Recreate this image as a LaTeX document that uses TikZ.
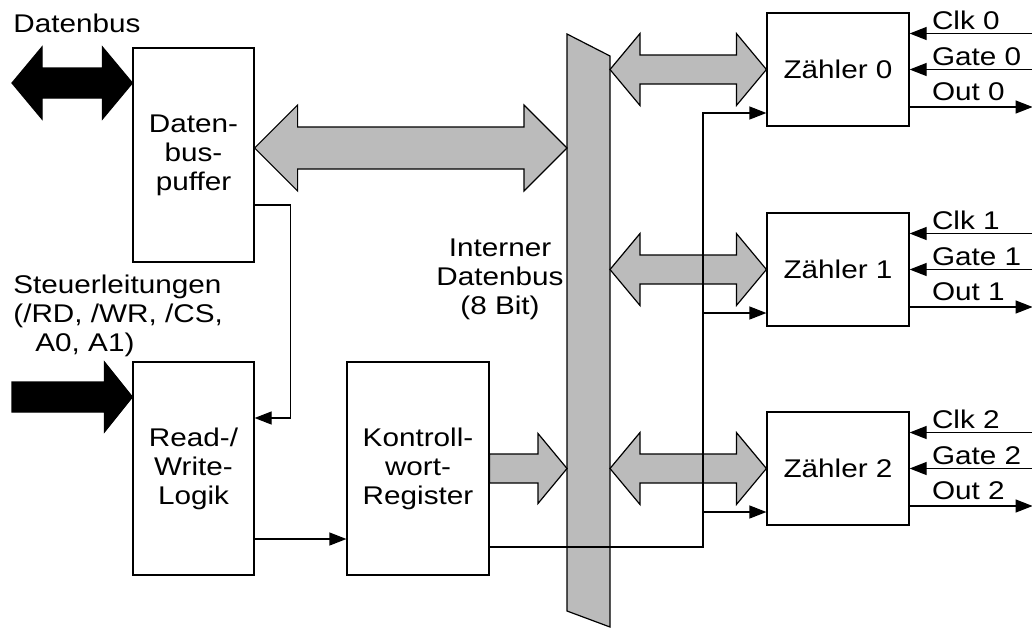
\documentclass[tikz,border=0pt]{standalone}
\usepackage{fontspec}
\setmainfont{Liberation Sans}[FakeStretch=1.16]
\usetikzlibrary{arrows.meta,calc}
\definecolor{busgray}{RGB}{187,187,187}

% fat bus arrows: style, from, to, half shaft, half head, head length
\newcommand{\dblbus}[6]{%
  \draw[#1] (#2) -- ++(#6,#5) -- ++(0,{#4-#5}) -- ($(#3)+(-#6,#4)$) -- ++(0,{#5-#4})
    -- (#3) -- ++(-#6,-#5) -- ++(0,{#5-#4}) -- ($(#2)+(#6,-#4)$) -- ++(0,{#4-#5}) -- cycle;}
\newcommand{\onebus}[6]{%
  \draw[#1] ($(#2)+(0,-#4)$) -- ($(#3)+(-#6,-#4)$) -- ++(0,{#4-#5}) -- (#3)
    -- ++(-#6,#5) -- ++(0,{#4-#5}) -- ($(#2)+(0,#4)$) -- cycle;}

\tikzset{
  block/.style={draw, line width=0.6pt, align=center, inner sep=0pt},
  sig/.style={line width=0.6pt},
  busfill/.style={fill=busgray, draw=black, line width=0.6pt},
  fatblack/.style={fill=black, draw=black, line width=0.6pt},
}

\begin{document}
\begin{tikzpicture}[x=0.5pt,y=-0.5pt,>={Triangle[length=8.5pt,width=6.5pt]},
    font=\fontsize{12.8pt}{14.5pt}\selectfont]
  \useasboundingbox (0,0) rectangle (1032,627);

  % blocks
  \node[block, minimum width=60.5pt, minimum height=107pt] (dbp) at (193.5,155) {Daten-\\bus-\\puffer};
  \node[block, minimum width=60.5pt, minimum height=106.5pt] (rw) at (193.5,468.5) {Read-/\\Write-\\Logik};
  \node[block, minimum width=71pt, minimum height=106.5pt] (kw) at (418,468.5) {Kontroll-\\wort-\\Register};
  \foreach \i/\yc in {0/69.5, 1/269.5, 2/468.5}
    \node[block, minimum width=71pt, minimum height=56.5pt] (z\i) at (838,\yc) {Zähler \i};

  % internal bus
  \draw[busfill] (567,34) -- (610,56) -- (610,627) -- (567,611) -- cycle;
  \coordinate (busL) at (567,0);
  \coordinate (busR) at (610,0);
  \node[anchor=north, align=center, inner sep=0pt] (ibus) at (500,238) {Interner\\Datenbus\\(8 Bit)};

  % outside connections
  \node[anchor=base west, inner sep=0pt] (ldb) at (13,32) {Datenbus};
  \coordinate (dbpL) at ([yshift=36pt]dbp.west);
  \coordinate (dbIn) at (12,83);
  \dblbus{fatblack}{dbIn}{dbpL}{15}{36}{30}
  \node[anchor=north west, align=left, inner sep=0pt] (lst) at (13,275)
    {Steuerleitungen\\(/RD, /WR, /CS,\\\hspace*{11pt}A0, A1)};
  \coordinate (rwL) at ([yshift=35.75pt]rw.west);
  \coordinate (stIn) at (12,397);
  \onebus{fatblack}{stIn}{rwL}{15}{35}{28}

  % bus arrows
  \coordinate (dbpR) at ([yshift=3.5pt]dbp.east);
  \coordinate (dbpB) at (dbpR -| busL);
  \dblbus{busfill}{dbpR}{dbpB}{21}{43}{43}
  \coordinate (kwB) at (kw.east -| busL);
  \onebus{busfill}{kw.east}{kwB}{14.5}{35}{29}
  \foreach \i in {0,1,2}{
    \coordinate (zb\i) at (z\i.west -| busR);
    \dblbus{busfill}{zb\i}{z\i.west}{14.5}{36}{30}
  }

  % control lines
  \draw[sig,->] ([yshift=-25pt]dbp.east) -- ++(36,0) |- ([yshift=25.25pt]rw.east);
  \draw[sig,->] ([yshift=-35.25pt]rw.east) -- ([yshift=-35.25pt]kw.west);
  \coordinate (rail) at (703,0);
  \draw[sig,->] ([yshift=-39.25pt]kw.east) -| ([yshift=-21.75pt]z0.west -| rail) -- ([yshift=-21.75pt]z0.west);
  \foreach \i in {1,2}
    \draw[sig,->] ([yshift=-21.75pt]z\i.west -| rail) -- ([yshift=-21.75pt]z\i.west);

  % counter pins
  \foreach \i in {0,1,2}{
    \draw[sig,<-] ([yshift=18pt]z\i.east) -- ++(123,0);
    \draw[sig,<-] (z\i.east) -- ++(123,0);
    \draw[sig,->] ([yshift=-18.75pt]z\i.east) -- ++(123,0);
    \node[anchor=base west, inner sep=0pt] (clk\i) at ([xshift=11pt,yshift=20pt]z\i.east) {Clk \i};
    \node[anchor=base west, inner sep=0pt] (gate\i) at ([xshift=11pt,yshift=2pt]z\i.east) {Gate \i};
    \node[anchor=base west, inner sep=0pt] (out\i) at ([xshift=11pt,yshift=-15.25pt]z\i.east) {Out \i};
  }
\end{tikzpicture}
\end{document}
